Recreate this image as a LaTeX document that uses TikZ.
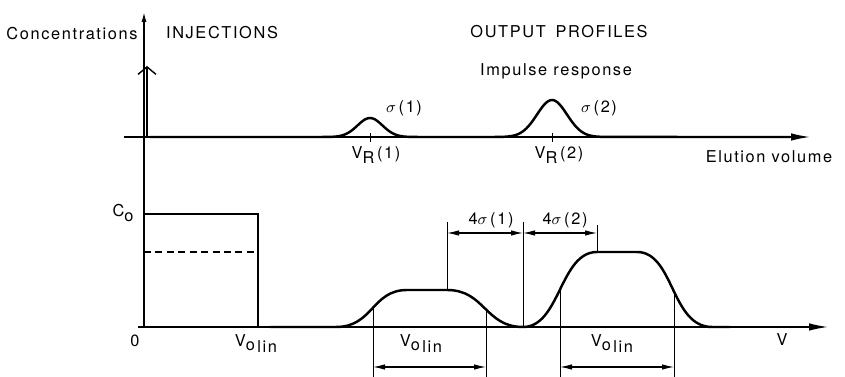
\documentclass[tikz,border=0pt]{standalone}
\usepackage{fontspec}
\setmainfont{TeX Gyre Heros}[LetterSpace=10]
\usetikzlibrary{arrows.meta,positioning,calc}
\tikzset{
  chrom axis/.style={
    line width=0.8pt,
    -{Latex[length=3.8mm,width=1.5mm]},
  },
  chrom curve/.style={line width=1.4pt, line join=round},
  chrom guide/.style={line width=0.5pt},
  chrom dim/.style={
    line width=0.6pt,
    {Latex[length=2.4mm,width=1.1mm]}-{Latex[length=2.4mm,width=1.1mm]},
  },
  chrom label/.style={font=\fontsize{9.3}{11}\selectfont, inner sep=1pt},
}
\newcommand{\Vlin}{V\raisebox{-0.45ex}{o\hspace{0.15em}\raisebox{-0.25ex}{lin}}}

\begin{document}
\begin{tikzpicture}[x=0.02cm,y=-0.02cm]
  \useasboundingbox (0,0) rectangle (845,377);

  % axes
  \coordinate (yfoot) at (144,327);
  \coordinate (ytop) at (144,12);
  \coordinate (tstart) at (124,137);
  \coordinate (tend) at (810,137);
  \coordinate (bstart) at (138,327);
  \coordinate (bend) at (828,327);
  \draw[chrom axis, -{Latex[length=2mm,width=1mm]}] (yfoot) -- (ytop);
  \draw[chrom axis] (tstart) -- (tend);
  \draw[chrom axis] (bstart) -- (bend);

  % impulse injection
  \coordinate (impfoot) at (147,137);
  \coordinate (imptop) at (147,66);
  \draw[line width=0.8pt, -{Straight Barb[length=1.5mm,width=3.6mm]}] (impfoot) -- (imptop);

  % impulse responses
  \coordinate (pk1) at (370,137);
  \coordinate (pk2) at (552,137);
  \draw[chrom curve] (150,137) -- (320,137)
    -- plot[domain=320:420, samples=50] (\x,{137-19*exp(-((\x-370)/12.5)^2/2)})
    -- (495,137)
    -- plot[domain=495:610, samples=60] (\x,{137-37*exp(-((\x-552)/15)^2/2)})
    -- (790,137);
  \draw[chrom guide] ($(pk1)+(0,-4)$) -- ($(pk1)+(0,5)$);
  \draw[chrom guide] ($(pk2)+(0,-4)$) -- ($(pk2)+(0,5)$);

  % slug injection
  \coordinate (slugtl) at (144,214);
  \coordinate (slugtr) at (258,214);
  \coordinate (slugbr) at (258,327);
  \coordinate (halfl) at (144,252);
  \coordinate (halfr) at (258,252);
  \draw[line width=0.7pt] (slugtl) -- (slugtr) -- (slugbr);
  \draw[line width=0.6pt, dashed, dash pattern=on 4pt off 2.5pt] (halfl) -- (halfr);

  % output profiles
  \draw[chrom curve] (270,327) -- (336,327)
    .. controls (373,327) and (372,290) .. (407,290) -- (447,290)
    .. controls (485,290) and (485,327) .. (523,327)
    .. controls (560,327) and (560,252) .. (597,252) -- (637,252)
    .. controls (674,252) and (671,327) .. (712,327) -- (730,327);

  % guide lines
  \coordinate (g1a) at (373,307);
  \coordinate (g1b) at (373,377);
  \coordinate (g2a) at (486,310);
  \coordinate (g2b) at (486,377);
  \coordinate (g3a) at (447,290);
  \coordinate (g3b) at (447,222);
  \coordinate (g4a) at (523,327);
  \coordinate (g4b) at (523,222);
  \coordinate (g5a) at (560,290);
  \coordinate (g5b) at (560,377);
  \coordinate (g6a) at (597,252);
  \coordinate (g6b) at (597,225);
  \coordinate (g7a) at (674,291);
  \coordinate (g7b) at (674,377);
  \foreach \g in {g1,g2,g3,g4,g5,g6,g7}
    \draw[chrom guide] (\g a) -- (\g b);

  % dimension arrows
  \coordinate (d1a) at (447,233);
  \coordinate (d1b) at (523,233);
  \coordinate (d2a) at (523,233);
  \coordinate (d2b) at (597,233);
  \coordinate (d3a) at (373,367);
  \coordinate (d3b) at (486,367);
  \coordinate (d4a) at (560,367);
  \coordinate (d4b) at (674,367);
  \draw[chrom dim] (d1a) -- (d1b);
  \draw[chrom dim] (d2a) -- (d2b);
  \draw[chrom dim] (d3a) -- (d3b);
  \draw[chrom dim] (d4a) -- (d4b);

  % labels
  \node[chrom label] (conc) at (72,34) {Concentrations};
  \node[chrom label] (inj) at (222,33) {INJECTIONS};
  \node[chrom label] (outp) at (559,32) {OUTPUT\hspace{0.6em}PROFILES};
  \node[chrom label] (impr) at (556,71) {Impulse response};
  \node[chrom label] (sig1) at (404,108) {$\sigma$\,(1)};
  \node[chrom label] (sig2) at (599,108) {$\sigma$\,(2)};
  \node[chrom label] (vr1) at (376,155) {V\raisebox{-0.5ex}{R}\,(1)};
  \node[chrom label] (vr2) at (559,155) {V\raisebox{-0.5ex}{R}\,(2)};
  \node[chrom label] (elu) at (769,157) {Elution volume};
  \node[chrom label] (czero) at (123,213) {C\raisebox{-0.5ex}{o}};
  \node[chrom label] (orig) at (135,341) {0};
  \node[chrom label] (vlin0) at (256,344) {\Vlin};
  \node[chrom label] (fs1) at (491,220) {4$\sigma$\,(1)};
  \node[chrom label] (fs2) at (565,220) {4$\sigma$\,(2)};
  \node[chrom label] (vlin1) at (421,344) {\Vlin};
  \node[chrom label] (vlin2) at (612,344) {\Vlin};
  \node[chrom label] (vlab) at (782,340) {V};
\end{tikzpicture}
\end{document}
